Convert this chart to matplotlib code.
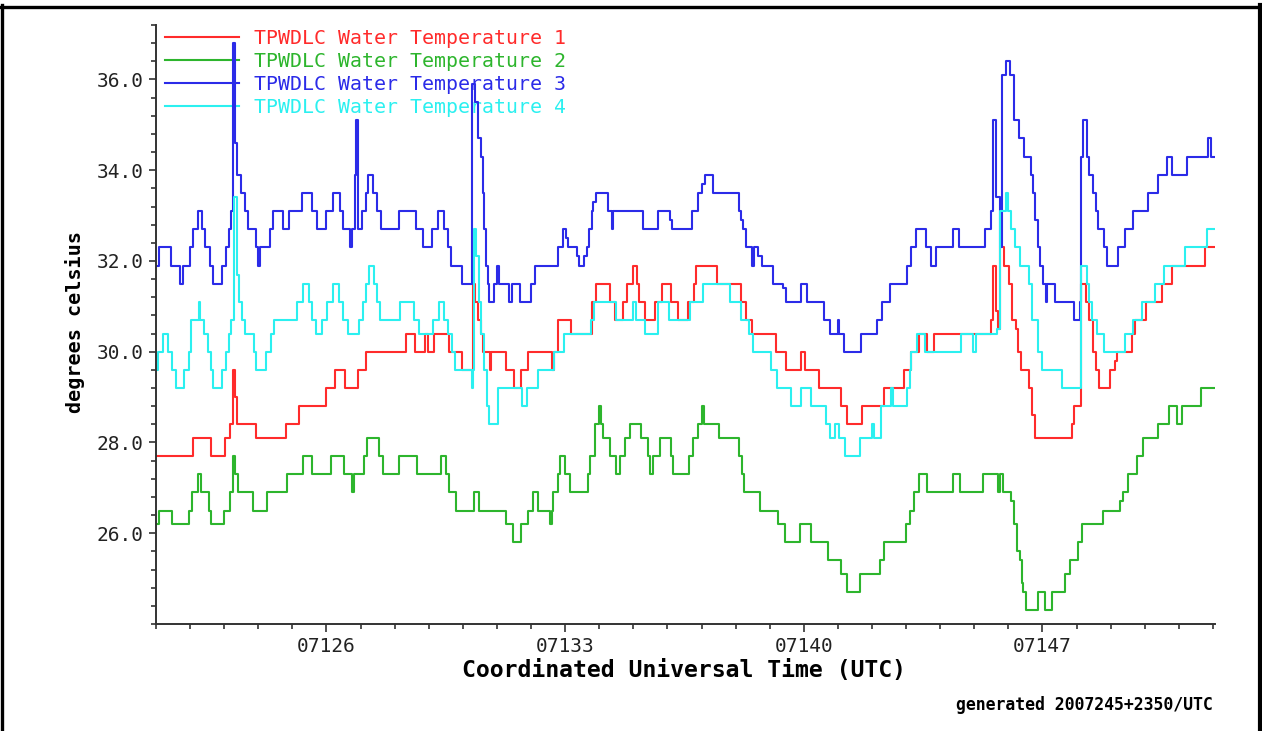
import matplotlib
matplotlib.use("Agg")
import matplotlib.pyplot as plt
from matplotlib.lines import Line2D
import numpy as np

# day of year 2007 (breakpoints of a step trace) and water temperature, deg C
t1 = [121.0, 122.08, 122.62, 123.03, 123.18, 123.25, 123.31, 123.37, 123.93, 124.8,
      125.18, 125.98, 126.26, 126.55, 126.92, 127.15, 128.32, 128.61, 128.9, 128.97,
      129.16, 129.6, 129.98, 130.3, 130.37, 130.45, 130.52, 130.58, 130.79, 130.82,
      131.28, 131.5, 131.7, 131.9, 132.6, 132.66, 132.78, 133.16, 133.78, 133.9,
      134.31, 134.46, 134.7, 134.8, 135.0, 135.1, 135.17, 135.35, 135.65, 135.85,
      136.1, 136.3, 136.6, 136.78, 136.85, 137.44, 138.15, 138.3, 138.47, 139.19,
      139.48, 139.93, 140.03, 140.46, 141.08, 141.28, 141.7, 142.34, 142.95, 143.15,
      143.38, 143.61, 143.82, 145.5, 145.55, 145.65, 145.7, 145.76, 145.88, 146.01,
      146.11, 146.21, 146.28, 146.37, 146.6, 146.69, 146.79, 147.86, 147.92, 148.13,
      148.29, 148.35, 148.49, 148.57, 148.67, 148.97, 149.13, 149.2, 149.62, 149.72,
      150.03, 150.5, 150.8, 151.78, 152.06]
temp1 = [27.7, 28.1, 27.7, 28.1, 28.4, 29.6, 29.0, 28.4, 28.1, 28.4,
         28.8, 29.2, 29.6, 29.2, 29.6, 30.0, 30.4, 30.0, 30.4, 30.0,
         30.4, 30.0, 29.6, 31.5, 31.1, 30.7, 30.4, 30.0, 29.6, 30.0,
         29.6, 29.2, 29.6, 30.0, 29.6, 30.0, 30.7, 30.4, 31.1, 31.5,
         31.1, 30.7, 31.1, 31.5, 31.9, 31.5, 31.1, 30.7, 31.1, 31.5,
         31.1, 30.7, 31.1, 31.5, 31.9, 31.5, 31.1, 30.7, 30.4, 30.0,
         29.6, 30.0, 29.6, 29.2, 28.8, 28.4, 28.8, 29.2, 29.6, 30.0,
         30.4, 30.0, 30.4, 30.7, 31.9, 30.9, 30.5, 32.3, 31.9, 31.5,
         30.7, 30.5, 30.0, 29.6, 29.2, 28.6, 28.1, 28.4, 28.8, 31.5,
         31.1, 30.7, 30.0, 29.6, 29.2, 29.6, 29.8, 30.0, 30.4, 30.7,
         31.1, 31.5, 31.9, 32.3, 32.3]

t2 = [121.0, 121.1, 121.48, 121.97, 122.07, 122.22, 122.32, 122.55, 122.62, 122.98,
      123.17, 123.25, 123.32, 123.4, 123.85, 124.27, 124.83, 125.3, 125.58, 126.12,
      126.52, 126.75, 126.8, 127.1, 127.2, 127.55, 127.65, 128.13, 128.66, 129.35,
      129.5, 129.6, 129.8, 130.32, 130.47, 131.28, 131.46, 131.7, 131.9, 132.06,
      132.2, 132.55, 132.6, 132.65, 132.8, 132.85, 133.0, 133.14, 133.68, 133.73,
      133.87, 134.0, 134.05, 134.1, 134.33, 134.5, 134.6, 134.75, 134.9, 135.22,
      135.43, 135.48, 135.58, 135.78, 136.1, 136.15, 136.63, 136.76, 136.9, 137.0,
      137.07, 137.5, 138.1, 138.19, 138.25, 138.71, 139.25, 139.46, 139.89, 140.2,
      140.7, 141.08, 141.28, 141.65, 142.24, 142.34, 143.0, 143.1, 143.22, 143.38,
      143.6, 144.38, 144.58, 145.26, 145.7, 145.75, 145.85, 146.09, 146.16, 146.26,
      146.34, 146.39, 146.43, 146.51, 146.87, 147.07, 147.27, 147.66, 147.8, 148.05,
      148.15, 148.78, 149.27, 149.37, 149.51, 149.76, 149.96, 150.4, 150.7, 150.94,
      151.08, 151.65, 152.06]
temp2 = [26.2, 26.5, 26.2, 26.5, 26.9, 27.3, 26.9, 26.5, 26.2, 26.5,
         26.9, 27.7, 27.3, 26.9, 26.5, 26.9, 27.3, 27.7, 27.3, 27.7,
         27.3, 26.9, 27.3, 27.7, 28.1, 27.7, 27.3, 27.7, 27.3, 27.7,
         27.3, 26.9, 26.5, 26.9, 26.5, 26.2, 25.8, 26.2, 26.5, 26.9,
         26.5, 26.2, 26.5, 26.9, 27.3, 27.7, 27.3, 26.9, 27.3, 27.7,
         28.4, 28.8, 28.4, 28.1, 27.7, 27.3, 27.7, 28.1, 28.4, 28.1,
         27.7, 27.3, 27.7, 28.1, 27.7, 27.3, 27.7, 28.1, 28.4, 28.8,
         28.4, 28.1, 27.7, 27.3, 26.9, 26.5, 26.2, 25.8, 26.2, 25.8,
         25.4, 25.1, 24.7, 25.1, 25.4, 25.8, 26.2, 26.5, 26.9, 27.3,
         26.9, 27.3, 26.9, 27.3, 26.9, 27.3, 26.9, 26.7, 26.2, 25.6,
         25.4, 24.9, 24.7, 24.3, 24.7, 24.3, 24.7, 25.1, 25.4, 25.8,
         26.2, 26.5, 26.7, 26.9, 27.3, 27.7, 28.1, 28.4, 28.8, 28.4,
         28.8, 29.2, 29.2]

t3 = [121.0, 121.1, 121.45, 121.7, 121.8, 122.0, 122.08, 122.22, 122.34, 122.44,
      122.58, 122.68, 122.93, 123.05, 123.13, 123.2, 123.26, 123.33, 123.39, 123.5,
      123.6, 123.7, 123.93, 123.98, 124.04, 124.34, 124.44, 124.73, 124.9, 125.27,
      125.57, 125.71, 126.0, 126.2, 126.4, 126.47, 126.7, 126.76, 126.84, 126.88,
      126.93, 127.05, 127.15, 127.23, 127.37, 127.47, 127.6, 128.12, 128.62, 128.82,
      129.1, 129.28, 129.45, 129.55, 129.65, 129.98, 130.28, 130.36, 130.45, 130.52,
      130.58, 130.63, 130.68, 130.73, 130.77, 130.92, 131.0, 131.05, 131.36, 131.45,
      131.67, 132.0, 132.12, 132.78, 132.95, 133.02, 133.09, 133.34, 133.41, 133.55,
      133.63, 133.71, 133.78, 133.82, 133.9, 134.26, 134.36, 134.41, 135.29, 135.73,
      136.07, 136.12, 136.71, 136.9, 137.0, 137.1, 137.34, 138.1, 138.15, 138.22,
      138.3, 138.47, 138.54, 138.66, 138.76, 139.1, 139.38, 139.49, 139.93, 140.1,
      140.6, 140.77, 141.0, 141.04, 141.17, 141.69, 142.15, 142.28, 142.52, 143.03,
      143.15, 143.3, 143.59, 143.73, 143.88, 144.38, 144.56, 145.3, 145.48, 145.55,
      145.65, 145.75, 145.8, 145.92, 146.04, 146.17, 146.3, 146.45, 146.65, 146.72,
      146.77, 146.87, 146.92, 147.02, 147.1, 147.14, 147.38, 147.93, 148.1, 148.14,
      148.19, 148.3, 148.37, 148.47, 148.57, 148.63, 148.79, 148.88, 149.22, 149.43,
      149.66, 150.1, 150.4, 150.65, 150.8, 151.23, 151.85, 151.93, 152.06]
temp3 = [31.9, 32.3, 31.9, 31.5, 31.9, 32.3, 32.7, 33.1, 32.7, 32.3,
         31.9, 31.5, 31.9, 32.3, 32.7, 33.1, 36.8, 34.6, 33.9, 33.5,
         33.1, 32.7, 32.3, 31.9, 32.3, 32.7, 33.1, 32.7, 33.1, 33.5,
         33.1, 32.7, 33.1, 33.5, 33.1, 32.7, 32.3, 32.7, 33.9, 35.1,
         32.7, 33.1, 33.5, 33.9, 33.5, 33.1, 32.7, 33.1, 32.7, 32.3,
         32.7, 33.1, 32.7, 32.3, 31.9, 31.5, 35.9, 35.5, 34.7, 34.3,
         33.5, 32.7, 31.9, 31.5, 31.1, 31.5, 31.9, 31.5, 31.1, 31.5,
         31.1, 31.5, 31.9, 32.3, 32.7, 32.5, 32.3, 32.1, 31.9, 32.1,
         32.3, 32.7, 33.1, 33.3, 33.5, 33.1, 32.7, 33.1, 32.7, 33.1,
         32.9, 32.7, 33.1, 33.5, 33.7, 33.9, 33.5, 33.1, 32.9, 32.7,
         32.3, 31.9, 32.3, 32.1, 31.9, 31.5, 31.4, 31.1, 31.5, 31.1,
         30.7, 30.4, 30.7, 30.4, 30.0, 30.4, 30.7, 31.1, 31.5, 31.9,
         32.3, 32.7, 32.3, 31.9, 32.3, 32.7, 32.3, 32.7, 33.1, 35.1,
         33.4, 32.3, 36.1, 36.4, 36.1, 35.1, 34.7, 34.3, 33.9, 33.5,
         32.9, 32.3, 31.9, 31.5, 31.1, 31.5, 31.1, 30.7, 31.1, 34.3,
         35.1, 34.3, 33.9, 33.5, 33.1, 32.7, 32.3, 31.9, 32.3, 32.7,
         33.1, 33.5, 33.9, 34.3, 33.9, 34.3, 34.7, 34.3, 34.3]

t4 = [121.0, 121.07, 121.2, 121.36, 121.46, 121.6, 121.82, 121.98, 122.04, 122.27,
      122.3, 122.42, 122.52, 122.62, 122.68, 122.95, 123.05, 123.13, 123.2, 123.28,
      123.37, 123.44, 123.52, 123.6, 123.88, 123.93, 124.22, 124.38, 124.47, 125.15,
      125.3, 125.48, 125.58, 125.7, 125.88, 126.03, 126.18, 126.38, 126.48, 126.62,
      126.95, 127.06, 127.16, 127.24, 127.38, 127.48, 127.56, 128.17, 128.58, 128.7,
      129.13, 129.3, 129.45, 129.56, 129.67, 129.77, 130.26, 130.3, 130.33, 130.4,
      130.47, 130.53, 130.62, 130.72, 130.78, 131.02, 131.72, 131.87, 132.2, 132.68,
      132.97, 133.77, 133.84, 134.5, 135.0, 135.08, 135.35, 135.73, 136.05, 136.65,
      137.05, 137.83, 138.15, 138.4, 138.5, 139.03, 139.22, 139.62,
      139.93, 140.2, 140.65, 140.77, 140.92, 141.04, 141.22, 141.65, 141.99, 142.05,
      142.25, 142.57, 142.62, 143.02, 143.1, 143.15, 143.33, 143.55, 144.62, 144.96,
      145.06, 145.68, 145.75, 145.93, 146.0, 146.08, 146.2, 146.34, 146.6, 146.69,
      146.86, 146.98, 147.58, 148.13, 148.3, 148.37, 148.45, 148.59, 148.79, 149.42,
      149.65, 149.92, 150.3, 150.55, 151.18, 151.82, 152.06]
temp4 = [29.6, 30.0, 30.4, 30.0, 29.6, 29.2, 29.6, 30.0, 30.7, 31.1,
         30.7, 30.4, 30.0, 29.6, 29.2, 29.6, 30.0, 30.4, 30.7, 33.4,
         31.7, 31.1, 30.7, 30.4, 30.0, 29.6, 30.0, 30.4, 30.7, 31.1,
         31.5, 31.1, 30.7, 30.4, 30.7, 31.1, 31.5, 31.1, 30.7, 30.4,
         30.7, 31.1, 31.5, 31.9, 31.5, 31.1, 30.7, 31.1, 30.7, 30.4,
         30.7, 31.1, 30.7, 30.4, 30.0, 29.6, 29.2, 29.6, 32.7, 32.1,
         31.1, 30.4, 29.6, 28.8, 28.4, 29.2, 28.8, 29.2, 29.6, 30.0,
         30.4, 30.7, 31.1, 30.7, 31.1, 30.7, 30.4, 31.1, 30.7, 31.1,
         31.5, 31.1, 30.7, 30.4, 30.0, 29.6, 29.2, 28.8,
         29.2, 28.8, 28.4, 28.1, 28.4, 28.1, 27.7, 28.1, 28.4, 28.1,
         28.8, 29.2, 28.8, 29.2, 29.6, 30.0, 30.4, 30.0, 30.4, 30.0,
         30.4, 30.5, 33.1, 33.5, 33.1, 32.7, 32.3, 31.9, 31.5, 30.7,
         30.0, 29.6, 29.2, 31.9, 31.5, 31.1, 30.7, 30.4, 30.0, 30.4,
         30.7, 31.1, 31.5, 31.9, 32.3, 32.7, 32.7]

series_names = ["TPWDLC Water Temperature 1", "TPWDLC Water Temperature 2",
                "TPWDLC Water Temperature 3", "TPWDLC Water Temperature 4"]
colors = ["#ff2b2b", "#2db52d", "#2b2be8", "#2bf0f0"]

major_days = [126, 133, 140, 147]
day_labels = ["07126", "07133", "07140", "07147"]
y_major = [26.0, 28.0, 30.0, 32.0, 34.0, 36.0]

W, H = 1262, 731
fig = plt.figure(figsize=(W / 100, H / 100), dpi=100)
fig.patch.set_facecolor("white")

# axes box in pixels of the reference: x 156..1215, y 25..624
ax = fig.add_axes([156 / W, 1 - 624 / H, (1215 - 156) / W, (624 - 25) / H])

mono = "DejaVu Sans Mono"
for t, v, c, name in zip([t1, t2, t3, t4], [temp1, temp2, temp3, temp4], colors, series_names):
    ax.plot(t, v, drawstyle="steps-post", color=c, lw=1.5, label=name)

ax.set_xlim(121.0, 152.06)
ax.set_ylim(24.0, 37.2)

ax.set_xticks(major_days)
ax.set_xticklabels(day_labels)
ax.set_xticks(np.arange(121, 153, 1), minor=True)
ax.set_yticks(y_major)
ax.set_yticklabels(["%.1f" % y for y in y_major])
ax.set_yticks(np.arange(24.0, 37.2, 0.4), minor=True)

for s in ["top", "right"]:
    ax.spines[s].set_visible(False)
for s in ["left", "bottom"]:
    ax.spines[s].set_color("#333333")
    ax.spines[s].set_linewidth(1.4)

ax.tick_params(axis="both", which="both", direction="out", color="#333333", width=1.2)
ax.tick_params(axis="x", which="major", length=6, pad=3)
ax.tick_params(axis="x", which="minor", length=3.5)
ax.tick_params(axis="y", which="major", length=5, pad=4)
ax.tick_params(axis="y", which="minor", length=3.5)
for lab in ax.get_xticklabels() + ax.get_yticklabels():
    lab.set_fontfamily(mono)
    lab.set_fontsize(14)
    lab.set_color("#222222")

leg = ax.legend(loc="upper left", bbox_to_anchor=(0.0085, 0.994), frameon=False,
                prop={"family": mono, "size": 14.3}, handlelength=3.75,
                handletextpad=0.72, labelspacing=0.21, borderpad=0.0,
                borderaxespad=0.0, labelcolor="linecolor")
leg.set_zorder(1)

fig.text(684 / W, 1 - 671 / H, "Coordinated Universal Time (UTC)", ha="center", va="center",
         fontfamily=mono, fontweight="bold", fontsize=16.7)
fig.text(75 / W, 1 - 322 / H, "degrees celsius", ha="center", va="center", rotation=90,
         fontfamily=mono, fontweight="bold", fontsize=14.5)
fig.text(1213 / W, 1 - 705 / H, "generated 2007245+2350/UTC", ha="right", va="center",
         fontfamily=mono, fontweight="bold", fontsize=11.9)

# black frame of the original image
fig.add_artist(Line2D([0, 1], [1 - 6.5 / H, 1 - 6.5 / H], color="black", lw=2.4,
                      transform=fig.transFigure))
fig.add_artist(Line2D([1.5 / W, 1.5 / W], [0, 1 - 5 / H], color="black", lw=2.4,
                      transform=fig.transFigure))
fig.add_artist(Line2D([1260 / W, 1260 / W], [0, 1 - 5 / H], color="black", lw=3.0,
                      transform=fig.transFigure))

fig.savefig("out.png", dpi=100, facecolor="white")
